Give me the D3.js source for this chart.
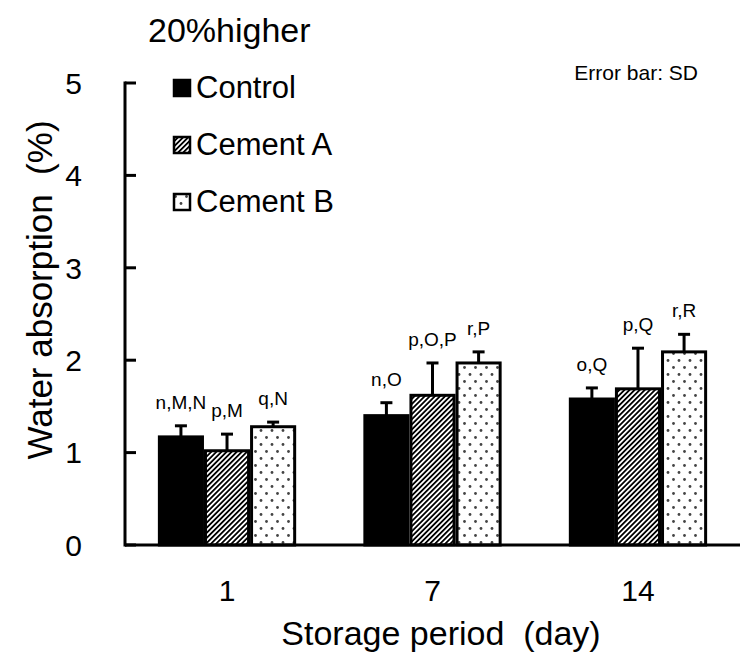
<!DOCTYPE html>
<html>
<head>
<meta charset="utf-8">
<script src="https://cdn.jsdelivr.net/npm/d3@7"></script>
<style>
  body { margin: 0; background: #fff; }
  text { font-family: "Liberation Sans", Arial, sans-serif; fill: #000; }
</style>
</head>
<body>
<div id="chart"></div>
<script>
// storage days on the x axis
var days = ["1", "7", "14"];

// series names (legend order)
var seriesNames = ["Control", "Cement A", "Cement B"];

// mean water absorption (%)
var controlVals = [1.17, 1.40, 1.58];
var cementAVals = [1.02, 1.62, 1.69];
var cementBVals = [1.28, 1.97, 2.09];

// standard deviations
var controlSD = [0.12, 0.14, 0.12];
var cementASD = [0.18, 0.35, 0.44];
var cementBSD = [0.05, 0.12, 0.19];

// significance letters above each bar
var controlLabels = ["n,M,N", "n,O", "o,Q"];
var cementALabels = ["p,M", "p,O,P", "p,Q"];
var cementBLabels = ["q,N", "r,P", "r,R"];

var yTicks = [0, 1, 2, 3, 4, 5];

var width = 745;
var height = 659;

var svg = d3.select("#chart")
    .append("svg")
    .attr("width", width)
    .attr("height", height);

// patterns for the two cement bars
var defs = svg.append("defs");

var hatch = defs.append("pattern")
    .attr("id", "hatch")
    .attr("patternUnits", "userSpaceOnUse")
    .attr("width", 3.6)
    .attr("height", 3.6)
    .attr("patternTransform", "rotate(45)");
hatch.append("rect").attr("width", 3.6).attr("height", 3.6).attr("fill", "#fff");
hatch.append("rect").attr("width", 1.8).attr("height", 3.6).attr("fill", "#000");

var dots = defs.append("pattern")
    .attr("id", "dots")
    .attr("patternUnits", "userSpaceOnUse")
    .attr("width", 11)
    .attr("height", 14);
dots.append("rect").attr("width", 11).attr("height", 14).attr("fill", "#fff");
dots.append("circle").attr("cx", 2.5).attr("cy", 3.5).attr("r", 1.4).attr("fill", "#444");
dots.append("circle").attr("cx", 8).attr("cy", 10.5).attr("r", 1.4).attr("fill", "#444");

var fills = ["#000", "url(#hatch)", "url(#dots)"];

// put the arrays together per series
var series = [
    { name: seriesNames[0], vals: controlVals, sd: controlSD, labels: controlLabels },
    { name: seriesNames[1], vals: cementAVals, sd: cementASD, labels: cementALabels },
    { name: seriesNames[2], vals: cementBVals, sd: cementBSD, labels: cementBLabels }
];

// scales
var x0 = d3.scaleBand()
    .domain(days)
    .range([125, 740])
    .paddingInner(0.327)
    .paddingOuter(0.16);

var x1 = d3.scaleBand()
    .domain(seriesNames)
    .range([0, x0.bandwidth()]);

var y = d3.scaleLinear()
    .domain([0, 5])
    .range([545, 83]);

// bars
var groups = svg.selectAll(".series")
    .data(series)
    .enter()
    .append("g")
    .attr("class", "series");

groups.each(function(s, si) {
    var g = d3.select(this);
    days.forEach(function(day, di) {
        var bx = x0(day) + x1(s.name);
        var bw = x1.bandwidth();
        var top = y(s.vals[di]);
        var errTop = y(s.vals[di] + s.sd[di]);
        var cx = bx + bw / 2;

        // error bar (only the upper half shows)
        g.append("line")
            .attr("x1", cx).attr("x2", cx)
            .attr("y1", top).attr("y2", errTop)
            .attr("stroke", "#000").attr("stroke-width", 3);
        g.append("line")
            .attr("x1", cx - 6).attr("x2", cx + 6)
            .attr("y1", errTop).attr("y2", errTop)
            .attr("stroke", "#000").attr("stroke-width", 3);

        g.append("rect")
            .attr("x", bx + 1.5)
            .attr("y", top)
            .attr("width", bw - 3)
            .attr("height", y(0) - top)
            .attr("fill", fills[si])
            .attr("stroke", "#000")
            .attr("stroke-width", 3);

        g.append("text")
            .attr("x", cx)
            .attr("y", errTop - 17)
            .attr("text-anchor", "middle")
            .style("font-size", "19px")
            .text(s.labels[di]);
    });
});

// y axis, ticks point inward
var yAxis = svg.append("g").attr("class", "yAxis");
yAxis.append("line")
    .attr("x1", 125).attr("x2", 125)
    .attr("y1", y(0) + 1.5).attr("y2", y(5) - 1.5)
    .attr("stroke", "#000").attr("stroke-width", 3);
yAxis.selectAll(".tick")
    .data(yTicks)
    .enter()
    .append("line")
    .attr("x1", 125).attr("x2", 136)
    .attr("y1", function(d) { return y(d); })
    .attr("y2", function(d) { return y(d); })
    .attr("stroke", "#000").attr("stroke-width", 3);
yAxis.selectAll(".tickLabel")
    .data(yTicks)
    .enter()
    .append("text")
    .attr("x", 82)
    .attr("y", function(d) { return y(d); })
    .attr("dy", "0.36em")
    .attr("text-anchor", "end")
    .style("font-size", "30px")
    .text(function(d) { return d; });

// x axis baseline
svg.append("line")
    .attr("x1", 125).attr("x2", 740)
    .attr("y1", y(0)).attr("y2", y(0))
    .attr("stroke", "#000").attr("stroke-width", 3);

svg.selectAll(".xLabel")
    .data(days)
    .enter()
    .append("text")
    .attr("x", function(d) { return x0(d) + x0.bandwidth() / 2; })
    .attr("y", 601)
    .attr("text-anchor", "middle")
    .style("font-size", "30px")
    .text(function(d) { return d; });

// axis titles
svg.append("text")
    .attr("x", 441)
    .attr("y", 645)
    .attr("text-anchor", "middle")
    .style("font-size", "34px")
    .text("Storage period\u00a0 (day)");

svg.append("text")
    .attr("transform", "translate(52, 290) rotate(-90)")
    .attr("text-anchor", "middle")
    .style("font-size", "35px")
    .text("Water absorption\u00a0 (%)");

// top notes
svg.append("text")
    .attr("x", 148)
    .attr("y", 42)
    .style("font-size", "34px")
    .text("20%higher");

svg.append("text")
    .attr("x", 698)
    .attr("y", 80)
    .attr("text-anchor", "end")
    .style("font-size", "21px")
    .text("Error bar: SD");

// legend
var legend = svg.selectAll(".legend")
    .data(seriesNames)
    .enter()
    .append("g")
    .attr("class", "legend")
    .attr("transform", function(d, i) { return "translate(173," + (79 + i * 57) + ")"; });

legend.append("rect")
    .attr("x", 1)
    .attr("y", 1)
    .attr("width", 16)
    .attr("height", 16)
    .attr("fill", function(d, i) { return fills[i]; })
    .attr("stroke", "#000")
    .attr("stroke-width", 2.5);

legend.append("text")
    .attr("x", 23)
    .attr("y", 19)
    .style("font-size", "31px")
    .text(function(d) { return d; });
</script>
</body>
</html>
